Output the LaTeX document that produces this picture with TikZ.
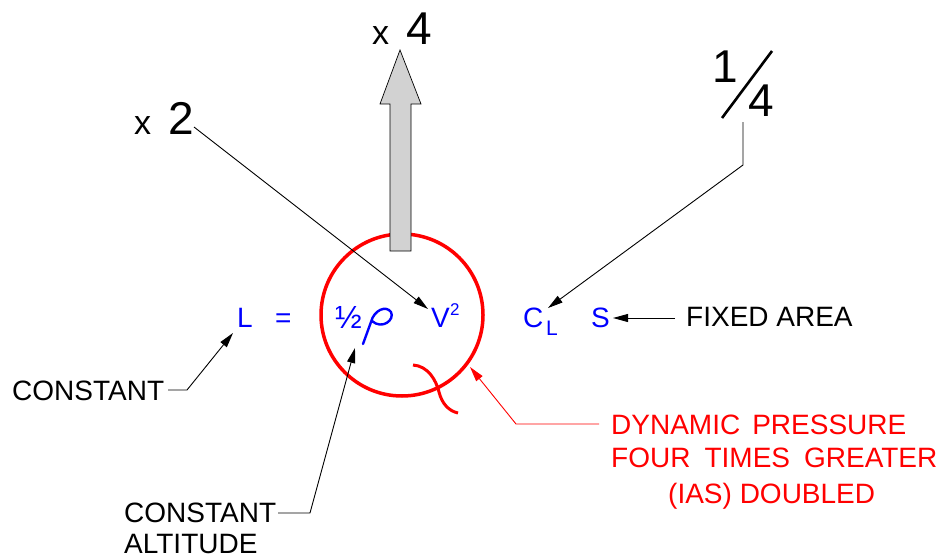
\documentclass[tikz,border=0pt]{standalone}
\usepackage{fontspec}
\setmainfont{Liberation Sans}
\usetikzlibrary{arrows.meta}
\definecolor{cadblue}{RGB}{0,0,255}
\definecolor{cadred}{RGB}{255,0,0}
\definecolor{arrowgray}{RGB}{210,210,210}
\newcommand{\myfs}[1]{\fontsize{#1}{#1}\selectfont}
\begin{document}
\begin{tikzpicture}[x=1pt,y=-1pt,
  txt/.style={inner sep=0pt, anchor=base west, font=\myfs{28}},
  big/.style={inner sep=0pt, anchor=base west, font=\myfs{46}},
  small/.style={inner sep=0pt, anchor=base west, font=\myfs{34}},
  blue/.style={txt, text=cadblue},
  redtxt/.style={txt, text=cadred},
  leader/.style={draw=black, line width=0.9pt, -{Triangle[length=15pt,width=8pt]}},
  redleader/.style={draw=cadred, line width=0.9pt, -{Triangle[length=15pt,width=8pt]}}
]
\useasboundingbox (0,0) rectangle (941,559);

% red circle
\node[circle, draw=cadred, line width=3.5pt, minimum size=162pt, inner sep=0pt] (circ) at (402,315) {};

% gray lift arrow
\path[fill=arrowgray, draw=black, line width=0.7pt] (390,251) -- (390,104) -- (380,104) -- (400,50) -- (421,104) -- (411,104) -- (411,251) -- cycle;

% x4 and x2
\node[small] (x4x) at (372,45) {x};
\node[big] (x4n) at (406,45) {4};
\node[small] (x2x) at (134,135) {x};
\node[big] (x2n) at (168,135) {2};

% 1/4
\node[big] (qone) at (712,83) {1};
\node[big] (qfour) at (748,117) {4};
\draw[line width=2.6pt] (722,118) -- (772,51);

% formula
\node[blue] (L) at (237,327) {L};
\node[blue] (eq) at (275,327) {=};
\node[blue, font=\myfs{32}] (half) at (335,328) {½};
\path[draw=cadblue, line width=2.4pt, line cap=round] (363,344) -- (371,322) .. controls (374,310) and (386,305) .. (391,312) .. controls (395,320) and (382,330) .. (372,321);
\node[blue] (V) at (431,327) {V};
\node[blue, font=\myfs{17}] (Vsq) at (450,315) {2};
\node[blue] (C) at (523,327) {C};
\node[blue, font=\myfs{21}] (Csub) at (546,335) {L};
\node[blue] (S) at (591,327) {S};

% labels
\node[txt] (fixed) at (686,326) {FIXED AREA};
\node[txt] (const) at (12,400) {CONSTANT};
\node[txt] (calt1) at (124,522) {CONSTANT};
\node[txt] (calt2) at (124,553) {ALTITUDE};
\node[redtxt] (dyn1) at (611,434) {DYNAMIC\hspace{12pt}PRESSURE};
\node[redtxt] (dyn2) at (611,467) {FOUR\hspace{14pt}TIMES\hspace{14pt}GREATER};
\node[redtxt] (dyn3) at (668,503) {(IAS) DOUBLED};

% coordinates for connectors
\coordinate (x2end) at (194,127);
\coordinate (vtip) at (428,309);
\coordinate (qtop) at (743,122);
\coordinate (qbend) at (743,165);
\coordinate (cltip) at (548,308);
\coordinate (fixstart) at (675,318);
\coordinate (stip) at (613,318);
\coordinate (cstart) at (168,390);
\coordinate (cbend) at (187,390);
\coordinate (ltip) at (233,333);
\coordinate (astart) at (278,513);
\coordinate (abend) at (310,513);
\coordinate (rhotip) at (355,348);
\coordinate (rstart) at (599,424);
\coordinate (rbend) at (516,424);
\coordinate (rtip) at (470,367);

% connectors
\draw[leader] (x2end) -- (vtip);
\draw[leader] (qtop) -- (qbend) -- (cltip);
\draw[leader] (fixstart) -- (stip);
\draw[leader] (cstart) -- (cbend) -- (ltip);
\draw[leader] (astart) -- (abend) -- (rhotip);
\draw[redleader] (rstart) -- (rbend) -- (rtip);

% red squiggle
\draw[cadred, line width=3pt] (413,365) .. controls (428,366) and (436,380) .. (439,392) .. controls (442,404) and (449,411) .. (458,413);
\end{tikzpicture}
\end{document}
